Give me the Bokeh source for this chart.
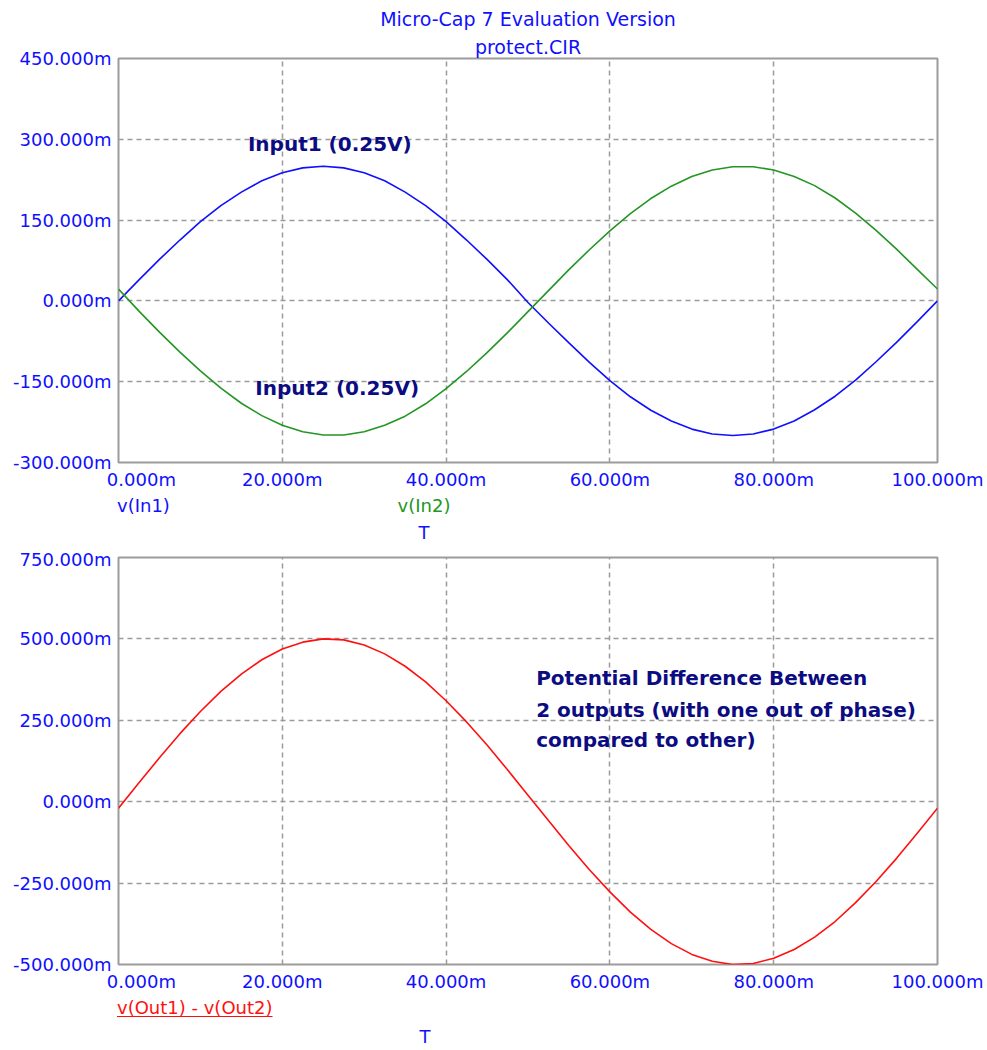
from bokeh.plotting import figure
from bokeh.layouts import column
from bokeh.models import (Range1d, FixedTicker, PrintfTickFormatter, Label, Title, Div)
from bokeh.embed import file_html
from bokeh.resources import INLINE

# ---- data (time in ms, voltages in mV) ----
t_ms = [0, 2.5, 5, 7.5, 10, 12.5, 15, 17.5, 20, 22.5, 25, 27.5, 30, 32.5, 35, 37.5,
        40, 42.5, 45, 47.5, 50, 52.5, 55, 57.5, 60, 62.5, 65, 67.5, 70, 72.5, 75,
        77.5, 80, 82.5, 85, 87.5, 90, 92.5, 95, 97.5, 100]
v_in1 = [0, 39, 77, 113, 147, 177, 202, 223, 238, 247, 250, 247, 238, 223, 202, 177,
         147, 113, 77, 39, -3, -41, -78, -114, -148, -178, -203, -223, -238, -247, -250,
         -247, -238, -223, -202, -177, -147, -113, -77, -39, 0]
v_in2 = [22, -19, -58, -95, -130, -162, -190, -213, -231, -243, -249, -249, -243, -231,
         -214, -191, -163, -131, -96, -59, -20, 19, 58, 95, 130, 162, 190, 213, 231, 243,
         249, 249, 243, 231, 214, 191, 163, 131, 96, 59, 22]
v_diff = [-20, 58, 135, 209, 277, 339, 392, 436, 469, 490, 500, 497, 481, 454, 416, 368,
          310, 245, 174, 98, 20, -58, -135, -209, -277, -339, -392, -436, -469, -490, -500,
          -497, -481, -454, -416, -368, -310, -245, -174, -98, -20]

x_ticks = [0, 20, 40, 60, 80, 100]
top_y_ticks = [-300, -150, 0, 150, 300, 450]
bot_y_ticks = [-500, -250, 0, 250, 500, 750]

title_lines = ["Micro-Cap 7 Evaluation Version", "protect.CIR"]
note_lines = ["Potential Difference Between", "2 outputs (with one out of phase)",
              "compared to other)"]

BLUE = "#1010ff"
NAVY = "#0c0c82"
GREEN = "#239623"
RED = "#ff1010"
GRID = "#9a9a9a"
FONT = "DejaVu Sans"
FS = "18px"
W = 987


def base_fig(height, y_lo, y_hi, yticks, border_top, border_bottom):
    p = figure(width=W, height=height, output_backend="svg", toolbar_location=None,
               x_range=Range1d(0, 100), y_range=Range1d(y_lo, y_hi),
               min_border_left=118, min_border_right=50,
               min_border_top=border_top, min_border_bottom=border_bottom)
    p.background_fill_color = "white"
    p.border_fill_color = "white"
    p.outline_line_color = "#9c9c9c"
    p.outline_line_width = 2
    for ax in (p.xaxis[0], p.yaxis[0]):
        ax.axis_line_color = None
        ax.major_tick_line_color = None
        ax.minor_tick_line_color = None
        ax.major_tick_out = 0
        ax.major_tick_in = 0
        ax.major_label_text_font = FONT
        ax.major_label_text_font_size = FS
        ax.major_label_text_color = BLUE
        ax.major_label_standoff = 7
        ax.formatter = PrintfTickFormatter(format="%.3fm")
    p.xaxis[0].major_label_standoff = 6
    p.xaxis[0].ticker = FixedTicker(ticks=x_ticks)
    p.yaxis[0].ticker = FixedTicker(ticks=yticks)
    # first time label starts at the left frame edge (padded with no-break spaces)
    p.xaxis[0].major_label_overrides = {0: "\u00a0" * 8 + "0.000m"}
    for g in (p.xgrid[0], p.ygrid[0]):
        g.grid_line_color = GRID
        g.grid_line_dash = "5 4"
        g.grid_line_width = 1.5
    return p


def lab(p, x, y, text, color=NAVY, size="20px"):
    p.add_layout(Label(x=x, y=y, text=text, text_color=color, text_align="left",
                       text_baseline="middle", text_font=FONT, text_font_size=size,
                       text_font_style="bold"))


def span(text, left, top, color, width=None, underline=False):
    st = ("position:absolute;top:%dpx;left:%dpx;font-family:'DejaVu Sans';"
          "font-size:18px;line-height:18px;white-space:nowrap;color:%s;" % (top, left, color))
    if width:
        st += "width:%dpx;text-align:center;" % width
    if underline:
        st += "text-decoration:underline;text-underline-offset:2px;"
    return '<span style="%s">%s</span>' % (st, text)


def box(height, inner):
    return Div(width=W, height=height, margin=0,
               text='<div style="position:relative;width:%dpx;height:%dpx;">%s</div>'
                    % (W, height, inner))


# ---------------- top plot ----------------
p1 = base_fig(492, -300, 450, top_y_ticks, 58, 30)
p1.add_layout(Title(text=title_lines[1], align="center", text_font=FONT,
                    text_font_size="19px", text_font_style="normal",
                    text_line_height=1.0, text_color=BLUE, standoff=2), "above")
p1.add_layout(Title(text=title_lines[0], align="center", text_font=FONT,
                    text_font_size="19px", text_font_style="normal",
                    text_line_height=1.0, text_color=BLUE, standoff=6), "above")
p1.line(t_ms, v_in1, line_color=BLUE, line_width=1.6)
p1.line(t_ms, v_in2, line_color=GREEN, line_width=1.6)
p1.add_layout(Label(x=25.8, y=292, text="Input1 (0.25V)", text_color=NAVY,
                    text_align="center", text_baseline="middle", text_font=FONT,
                    text_font_size="20px", text_font_style="bold"))
p1.add_layout(Label(x=26.7, y=-161, text="Input2 (0.25V)", text_color=NAVY,
                    text_align="center", text_baseline="middle", text_font=FONT,
                    text_font_size="20px", text_font_style="bold"))

divB = box(56, span("v(In1)", 117, 5, BLUE)
           + span("v(In2)", 374, 5, GREEN, width=100)
           + span("T", 374, 32, BLUE, width=100))

# ---------------- bottom plot ----------------
p2 = base_fig(446, -500, 750, bot_y_ticks, 9, 28)
p2.line(t_ms, v_diff, line_color=RED, line_width=1.6)
note_y = [380, 282, 188]
for txt, yy in zip(note_lines, note_y):
    lab(p2, 51.0, yy, txt)

divC = box(54, span("v(Out1) - v(Out2)", 117, 5, RED, underline=True)
           + span("T", 375, 34, BLUE, width=100))

layout = column(p1, divB, p2, divC, spacing=0)
open("out.html", "w").write(file_html(layout, INLINE))
